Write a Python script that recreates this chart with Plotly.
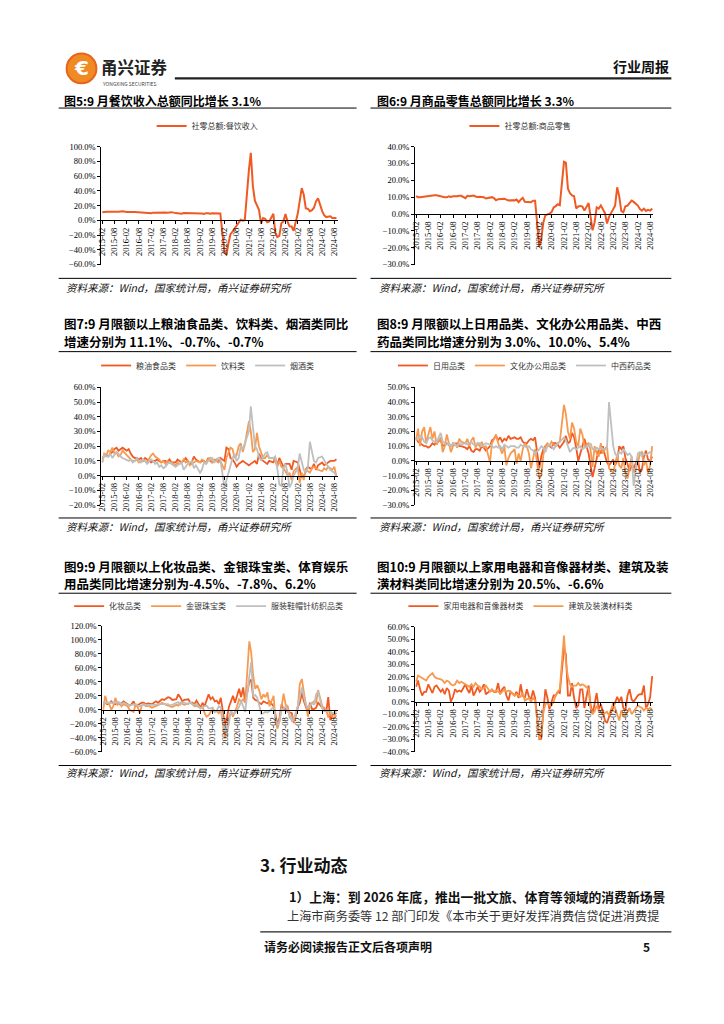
import plotly.graph_objects as go

# page is 724x1024; the browser body adds an 8px margin, so the figure is
# drawn 8px smaller and all page coordinates are shifted by that offset
PAGE_W, PAGE_H = 724, 1024
OFF = 8
W, H = PAGE_W - OFF, PAGE_H - OFF
CJK = "Noto Sans CJK SC"
SERIF = "Liberation Serif"
DARK = "#F05A22"
LIGHT = "#F79A50"
GRAY = "#BFBFBF"

# ---------------- categories ----------------
months = []
for yr in range(2015, 2025):
    last = 9 if yr == 2024 else 12
    for m in range(2, last + 1):
        months.append(f"{yr}-{m:02d}-01")
tick_vals = [f"{y}-{m:02d}-01" for y in range(2015, 2025) for m in (2, 8)]
tick_text = [v[:7] for v in tick_vals]

# ---------------- data (Feb..Dec per year, 2024 Feb..Sep) ----------------
catering = [
    11.1, 11.6, 11.6, 11.5, 11.3, 11.0, 11.5, 11.6, 11.6, 11.8, 12.4,
    11.4, 11.6, 11.2, 11.2, 11.2, 11.0, 10.8, 10.8, 10.8, 10.6, 10.6,
    9.6, 10.4, 10.5, 11.0, 10.9, 11.1, 10.8, 10.6, 10.4, 10.6, 11.1,
    9.8, 9.6, 9.1, 9.0, 9.9, 9.9, 9.1, 9.6, 8.9, 9.6, 9.7,
    9.7, 9.1, 8.7, 9.7, 9.6, 9.0, 9.6, 9.3, 9.4, 9.4, 9.4,
    -43.1, -46.8, -31.1, -18.9, -15.2, -11.0, -7.0, -2.9, 0.8, -0.6, 0.4,
    68.9, 91.6, 46.4, 26.6, 20.2, 14.3, -4.5, 3.1, 2.0, -2.7, -1.6,
    8.9, -16.4, -22.7, -21.1, -4.0, -1.5, 8.4, -1.7, -8.1, -8.4, -14.1,
    9.2, 26.3, 43.8, 35.1, 16.1, 15.8, 12.4, 13.8, 17.1, 25.8, 30.0,
    12.5, 6.9, 4.4, 5.0, 5.4, 3.0, 3.3, 3.1]

goods = [
    10.6, 10.0, 9.9, 10.1, 10.5, 10.4, 10.6, 10.8, 10.9, 11.1, 11.1,
    10.2, 10.2, 10.0, 9.9, 10.5, 10.1, 10.5, 10.4, 10.6, 10.8, 10.8,
    9.4, 10.8, 10.6, 10.6, 11.0, 10.4, 10.1, 10.3, 10.0, 10.0, 9.2,
    9.6, 10.0, 9.4, 8.2, 8.8, 8.8, 8.8, 9.1, 8.5, 8.0, 8.2,
    8.1, 8.6, 7.0, 8.5, 9.6, 7.3, 7.3, 7.3, 7.0, 7.9, 7.9,
    -19.6, -14.8, -5.1, -0.8, -0.2, 0.2, 1.1, 3.9, 4.7, 5.8, 5.2,
    31.0, 30.5, 15.0, 12.3, 11.0, 10.5, 3.3, 4.5, 4.8, 4.4, 2.0,
    6.5, -2.1, -9.7, -5.0, 3.9, 3.2, 5.1, 2.8, 0.5, -5.6, -1.7,
    2.9, 5.0, 15.9, 10.5, 1.7, 1.0, 4.6, 5.0, 6.5, 8.0, 7.2,
    5.0, 3.0, 2.0, 3.2, 1.8, 2.5, 2.0, 3.3]

grain_oil = [
    11, 14, 14, 13, 15, 16, 18, 19, 17, 18, 19,
    17, 18, 15, 13, 12, 12, 11, 12, 10, 12, 11,
    9, 10, 10, 11, 10, 9, 10, 10, 9, 11, 9,
    9, 11, 10, 9, 10, 12, 10, 8, 9, 13, 11,
    9, 10, 10, 8, 12, 10, 9, 10, 11, 9, 12,
    10, 19, 18, 12, 11, 9, 6, 8, 9, 10, 9,
    7, 8, 9, 10, 8, 15, 12, 10, 9, 8, 10,
    9, 12, 7, 12, 9, 6, 8, 8, 8, 4, 10,
    9, 4, -1, -1, 4, 6, 5, 5, 8, 4, 7,
    9, 7, 8, 9, 10, 10, 10, 11.1]

beverage = [
    9, 15, 14, 17, 16, 19, 15, 16, 13, 14, 17,
    14, 12, 11, 10, 10, 11, 9, 10, 11, 10, 9,
    14, 15, 13, 12, 11, 9, 10, 8, 10, 9, 9,
    7, 9, 8, 9, 11, 9, 10, 7, 8, 9, 10,
    9, 11, 10, 8, 11, 12, 9, 11, 10, 9, 10,
    4, 12, 16, 19, 18, 12, 14, 20, 22, 16, 21,
    37, 30, 16, 18, 29, 20, 16, 12, 12, 14, 12,
    12, 10, 6, 10, 6, 5, 3, 0, 2, -3, 3,
    6, -5, 2, -3, 5, 3, 2, 5, 6, 5, 4,
    3, 5, 4, 6, 5, 4, 6, -0.7]

tobacco_liquor = [
    9, 14, 13, 13, 15, 12, 14, 16, 15, 13, 12,
    11, 10, 11, 9, 10, 12, 10, 9, 11, 10, 8,
    11, 10, 8, 9, 6, 7, 5, 6, 8, 9, 8,
    6, 7, 8, 9, 4, 6, 8, 9, 10, 5, 7,
    2, 4, 9, 8, 10, 11, 12, 9, 10, 12, 11,
    -8, -3, 3, 8, 12, 15, 10, 12, 20, 18, 22,
    30, 47, 35, 20, 18, 13, 10, 13, 15, 16, 12,
    12, 13, 5, -6, -7, 5, 8, 2, -8, -5, 0,
    5, 15, 10, 4, 2, 5, 23, 16, 10, 9, 12,
    13, 10, 8, 6, 4, 3, 2, -0.7]

daily_use = [
    16, 13, 12, 11, 10, 10, 9, 10, 12, 11, 13,
    14, 10, 11, 12, 11, 10, 12, 11, 12, 10, 10,
    9, 8, 10, 7, 6, 8, 8, 7, 10, 9, 7,
    10, 14, 15, 17, 14, 16, 13, 15, 14, 17, 15,
    16, 15, 15, 16, 13, 12, 12, 14, 15, 14, 16,
    -5, 3, 8, 10, 11, 10, 9, 12, 12, 11, 9,
    13, 17, 12, 13, 19, 16, 9, 0, 5, 10, 15,
    5, -2, -11, -5, 3, 8, 5, 10, 4, -1, -3,
    1, -3, 0, 10, 8, 10, 2, -2, -7, -3, -5,
    2, -8, -6, 3, 7, 1, 0, 3.0]

office = [
    14, 22, 10, 20, 23, 12, 18, 23, 15, 20, 11,
    16, 6, 10, 18, 12, 6, 10, 12, 9, 15, 13,
    12, 15, 10, 14, 16, 9, 12, 10, 13, 9, 10,
    -1, 12, 15, 18, 12, 8, 5, 10, -3, 2, 5,
    8, -2, 5, 0, 8, 12, 10, 5, -5, 3, 8,
    -12, -10, 4, 10, 12, 10, 13, 11, 10, 12, 13,
    38, 32, 20, 15, 26, 22, 13, 10, 22, 18, 10,
    12, 8, -4, 10, 5, 3, 12, 5, 8, 10, -5,
    -8, -2, 4, -3, -5, 2, -8, -12, -5, 3, -8,
    -2, 5, 6, -3, 0, -8, -3, 10.0]

medicine = [
    14, 15, 17, 16, 13, 12, 15, 16, 14, 13, 13,
    19, 13, 12, 11, 12, 10, 12, 11, 10, 12, 11,
    12, 11, 12, 13, 11, 11, 12, 12, 10, 11, 12,
    11, 10, 9, 10, 9, 10, 8, 11, 10, 9, 10,
    10, 9, 9, 11, 10, 10, 9, 10, 8, 7, 5,
    8, 10, 9, 6, 10, 11, 10, 8, 10, 12, 13,
    16, 14, 10, 6, 8, 9, 8, 9, 10, 8, 9,
    10, 12, 8, 8, 9, 8, 9, 8, 8, 9, 40,
    10, 5, 3, 6, 5, 8, 6, 4, 5, 3, -17,
    5, 6, 3, 5, 4, 5, 6, 5.4]

cosmetics = [
    10, 10, 8, 9, 12, 9, 8, 11, 8, 9, 12,
    7, 6, 8, 12, 5, 7, 8, 10, 10, 8, 9,
    8, 10, 12, 10, 13, 15, 14, 16, 18, 17, 14,
    15, 22, 18, 12, 14, 15, 15, 10, 10, 8, 13,
    3, 10, 5, 15, 22, 15, 18, 12, 13, 8, 17,
    -22, -12, 4, 13, 20, 10, 19, 30, 18, 32, 10,
    40, 43, 17, 14, 13, 10, 8, 12, 10, 9, 12,
    5, -7, -22, -11, 8, 0, 2, -3, -4, -5, -19,
    4, 10, 24, 12, 5, -4, 10, 1, 1, 3, 10,
    3, 2, -3, 18, -15, -7, -7, -4.5]

jewelry = [
    0, 20, 10, 8, 0, 5, 17, 7, 10, 5, 8,
    5, 0, -1, -3, 8, 4, -5, 6, 8, 5, 6,
    3, 4, 5, 6, 8, 10, 8, 7, 6, 5, 4,
    7, 6, 10, 9, 7, 8, 9, 10, 8, 5, 6,
    2, 5, -5, -10, -8, -3, 0, -3, -2, -5, 0,
    -41, -30, -10, -3, -10, -3, 5, 15, 12, 15, 10,
    98, 82, 48, 30, 35, 27, 15, 22, 18, 25, 5,
    20, -18, -27, -15, 8, 23, 7, 5, -12, -8, -18,
    5, 37, 44, 25, 8, -10, 7, 10, 12, 10, 28,
    5, 3, 0, -11, -4, -10, -12, -7.8]

apparel = [
    10, 10, 9, 10, 10, 9, 10, 11, 9, 8, 10,
    7, 6, 7, 7, 8, 6, 5, 6, 8, 7, 7,
    6, 6, 7, 8, 8, 7, 7, 8, 8, 6, 7,
    9, 11, 7, 11, 10, 9, 8, 11, 8, 7, 8,
    2, 4, 5, 6, 2, 2, 3, -3, -1, 5, 3,
    -30, -34, -19, -1, -6, -5, -1, 4, 13, 3, -3,
    48, 68, 19, 21, 17, 7, -6, -5, -3, -4, -2,
    4, -13, -22, -17, 1, 1, 5, -1, -8, -16, -13,
    6, 17, 32, 18, 7, 3, 5, 10, 7, 22, 26,
    2, -2, -2, -2, -2, -5, -5, -0.4]

appliances = [
    12, 17, 10, 5, 8, 8, 14, 10, 7, 12, 13,
    8, 10, 6, 11, 9, 0, 4, 10, 8, 9, 8,
    14, 10, 7, 13, 5, 8, 12, 8, 10, 14, 6,
    9, 9, 8, 8, 15, 6, 10, 12, 5, 1, 8,
    5, 8, 3, 14, 5, 3, 10, 4, 2, 9, 3,
    -30, -29.7, -8, 10, 3, -6, 0, 5, 5, 8, 7,
    43, 38, 5, 5, 15, 3, -5, -3, 10, 10, -5,
    13, -2, -10, -1, 7, -6, -2, -8, -15, -17, -12,
    -5, -1, 4, 0, 4, -5, -7, 5, 10, 2, 0,
    5, 6, 6, 13, -5, -2, 3.4, 20.5]

building = [
    16, 21, 20, 19, 18, 17, 20, 22, 23, 20, 19,
    18, 17, 15, 17, 16, 14, 13, 14, 17, 15, 16,
    14, 13, 12, 14, 12, 15, 13, 12, 10, 11, 13,
    8, 10, 8, 9, 8, 7, 8, 10, 8, 9, 8,
    5, 6, 5, 4, 7, 1, 2, 3, 0, 3, 1,
    -30, -25, -8, -2, -1, -3, -3, 0, 5, 8, 10,
    53, 32, 20, 14, 12, 13, 13, 15, 13, 14, 13,
    10, -5, -9, -8, -3, -7, -8, -10, -9, -8, -11,
    -1, -5, -11, -15, -7, -11, -11, -8, -5, -10, -8,
    -3, -4, -5, -7, -5, -6, -5, -6.6]

# ---------------- panels ----------------
panels = [
    dict(x0=98, x1=336, yt=143, yb=262, lo=-60, hi=100, dt=20, leg=(205, 122),
         series=[("社零总额:餐饮收入", catering, DARK)]),
    dict(x0=414, x1=654, yt=143, yb=262, lo=-30, hi=40, dt=10, leg=(520, 122),
         series=[("社零总额:商品零售", goods, DARK)]),
    dict(x0=98, x1=336, yt=386, yb=505, lo=-20, hi=60, dt=10, leg=(205, 364),
         series=[("粮油食品类", grain_oil, DARK), ("饮料类", beverage, LIGHT),
                 ("烟酒类", tobacco_liquor, GRAY)]),
    dict(x0=414, x1=654, yt=386, yb=505, lo=-30, hi=50, dt=10, leg=(524, 364),
         series=[("日用品类", daily_use, DARK), ("文化办公用品类", office, LIGHT),
                 ("中西药品类", medicine, GRAY)]),
    dict(x0=99, x1=336, yt=627, yb=754, lo=-60, hi=120, dt=20, leg=(206, 607),
         series=[("化妆品类", cosmetics, DARK), ("金银珠宝类", jewelry, LIGHT),
                 ("服装鞋帽针纺织品类", apparel, GRAY)]),
    dict(x0=414, x1=654, yt=628, yb=754, lo=-40, hi=60, dt=10, leg=(520, 607),
         series=[("家用电器和音像器材类", appliances, DARK), ("建筑及装潢材料类", building, LIGHT)]),
]


def px(x):
    return (x - OFF) / W


def py(y):
    return 1 - (y - OFF) / H


fig = go.Figure()
layout = dict(width=W, height=H, margin=dict(l=0, r=0, t=0, b=0),
              paper_bgcolor="white", plot_bgcolor="white", showlegend=True)

for i, p in enumerate(panels, start=1):
    sfx = "" if i == 1 else str(i)
    for name, vals, col in p["series"]:
        fig.add_trace(go.Scatter(
            x=months, y=vals, name=name, mode="lines",
            line=dict(color=col, width=1.8 if len(p["series"]) > 1 else 2),
            xaxis="x" + sfx, yaxis="y" + sfx, legend="legend" + sfx,
            hoverinfo="skip"))
    zero_px = p["yt"] + (p["hi"] - 0) / (p["hi"] - p["lo"]) * (p["yb"] - p["yt"])
    layout["xaxis" + sfx] = dict(
        domain=[px(p["x0"]), px(p["x1"])], type="date",
        range=["2015-01-18", "2024-09-20"],
        tickvals=tick_vals, ticktext=tick_text, tickangle=-90,
        tickfont=dict(family=SERIF, size=8.5, color="#000"),
        anchor="free", position=py(zero_px),
        showline=True, linecolor="#000", linewidth=1,
        ticks="outside", ticklen=3, tickcolor="#000",
        showgrid=False, zeroline=False)
    layout["yaxis" + sfx] = dict(
        domain=[py(p["yb"]), py(p["yt"])], range=[p["lo"], p["hi"]],
        dtick=p["dt"], tick0=0, tickformat=".1f", ticksuffix="%",
        tickfont=dict(family=SERIF, size=8.5, color="#000"),
        anchor="x" + sfx, showline=True, linecolor="#000", linewidth=1,
        ticks="outside", ticklen=3, tickcolor="#000",
        showgrid=False, zeroline=False)
    layout["legend" + sfx] = dict(
        orientation="h", x=px(p["leg"][0]), y=py(p["leg"][1]),
        xanchor="center", yanchor="middle", bgcolor="rgba(0,0,0,0)",
        font=dict(family=CJK, size=8, color="#333"), itemwidth=30,
        tracegroupgap=0)

shapes = []


def hline(x0, x1, y, w=1.0, color="#000"):
    shapes.append(dict(type="line", xref="paper", yref="paper",
                       x0=px(x0), x1=px(x1), y0=py(y), y1=py(y),
                       line=dict(color=color, width=w)))


hline(172, 672, 74, 2.2, "#222")
for yy in (104, 276, 350, 518, 594, 768):
    hline(55, 355, yy)
    hline(369, 672, yy)
hline(258, 672, 936, 1.4, "#222")

# logo circle
shapes.append(dict(type="circle", xref="paper", yref="paper",
                   x0=px(63), x1=px(93), y0=py(79), y1=py(49),
                   fillcolor="#F08A24", line=dict(color="#E8641B", width=2)))

annotations = []


def text(x, y, s, size=12, bold=False, color="#000", anchor="left", family=CJK, italic=False):
    if bold:
        s = "<b>" + s + "</b>"
    if italic:
        s = "<i>" + s + "</i>"
    annotations.append(dict(xref="paper", yref="paper", x=px(x), y=py(y),
                            text=s, showarrow=False, xanchor=anchor, yanchor="middle",
                            font=dict(family=family, size=size, color=color)))


text(78, 64, "€", 20, True, "white", "center", "DejaVu Sans")
text(96, 63, "甬兴证券", 16.5, True, "#222")
text(97, 79, "YONGXING SECURITIES", 5, False, "#444")
text(672, 62, "行业周报", 14, True, "#111", "right")

text(58, 96, "图5:9 月餐饮收入总额同比增长 3.1%", 12, True)
text(374, 96, "图6:9 月商品零售总额同比增长 3.3%", 12, True)
text(58, 322, "图7:9 月限额以上粮油食品类、饮料类、烟酒类同比", 12.5, True)
text(58, 340, "增速分别为 11.1%、-0.7%、-0.7%", 12.5, True)
text(374, 322, "图8:9 月限额以上日用品类、文化办公用品类、中西", 12.5, True)
text(374, 340, "药品类同比增速分别为 3.0%、10.0%、5.4%", 12.5, True)
text(58, 567, "图9:9 月限额以上化妆品类、金银珠宝类、体育娱乐", 12.5, True)
text(58, 584, "用品类同比增速分别为-4.5%、-7.8%、6.2%", 12.5, True)
text(374, 567, "图10:9 月限额以上家用电器和音像器材类、建筑及装", 12.5, True)
text(374, 584, "潢材料类同比增速分别为 20.5%、-6.6%", 12.5, True)

src = "资料来源：Wind，国家统计局，甬兴证券研究所"
for yy in (285, 527, 775):
    text(60, yy, src, 10.5, False, "#111", italic=True)
    text(376, yy, src, 10.5, False, "#111", italic=True)

text(256, 868, "3. 行业动态", 17, True, "#111")
text(285, 900, "1）上海：到 2026 年底，推出一批文旅、体育等领域的消费新场景", 12.8, True, "#111")
text(283, 920, "上海市商务委等 12 部门印发《本市关于更好发挥消费信贷促进消费提", 12.2, False, "#333")
text(260, 951, "请务必阅读报告正文后各项声明", 12, True, "#111")
text(652, 951, "5", 12, True, "#111", "right")

layout["shapes"] = shapes
layout["annotations"] = annotations
fig.update_layout(**layout)
fig.write_html("out.html")
